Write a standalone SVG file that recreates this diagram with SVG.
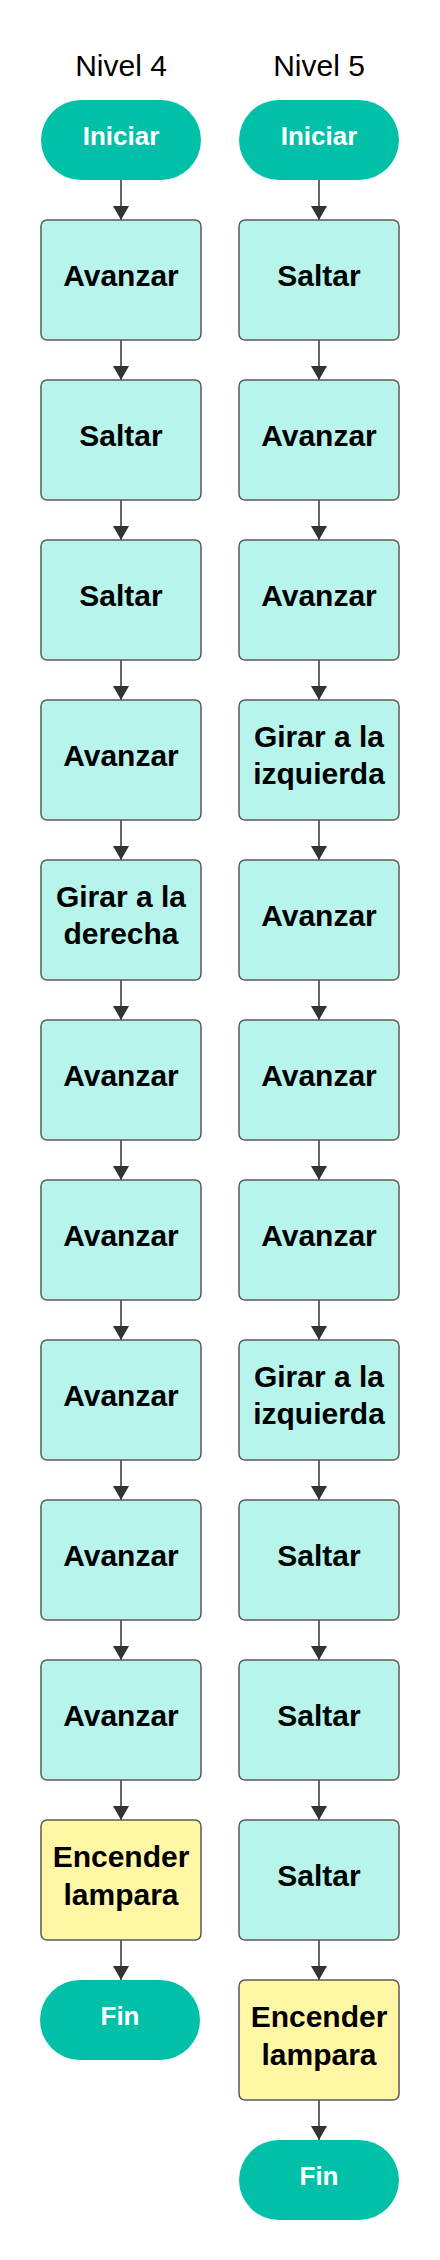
<svg xmlns="http://www.w3.org/2000/svg" width="440" height="2260" viewBox="0 0 440 2260">
<defs>
<style>
.title{font-family:"Liberation Sans",Arial,sans-serif;font-size:30px;fill:#000;text-anchor:middle}
.pill{fill:#00C1A8}
.pt{font-family:"Liberation Sans",Arial,sans-serif;font-size:26px;font-weight:bold;fill:#fff;text-anchor:middle}
.box{fill:#B7F4EB;stroke:#5a5a5a;stroke-width:1.5}
.lamp{fill:#FFF6A6;stroke:#5a5a5a;stroke-width:1.5}
.bt{font-family:"Liberation Sans",Arial,sans-serif;font-size:30px;font-weight:bold;fill:#000;text-anchor:middle}
.c{stroke:#333;stroke-width:1.5;fill:none;marker-end:url(#ah)}
</style>
<marker id="ah" markerUnits="userSpaceOnUse" markerWidth="14" markerHeight="16" viewBox="0 0 14 16" refX="14" refY="8" orient="auto"><path d="M0,0L14,8L0,16z" fill="#333"/></marker>
</defs>
<rect width="440" height="2260" fill="#fff"/>
<text class="title" x="121" y="76">Nivel 4</text>
<text class="title" x="319" y="76">Nivel 5</text>
<g id="connectors">
<path class="c" d="M121,180V220"/>
<path class="c" d="M121,340V380"/>
<path class="c" d="M121,500V540"/>
<path class="c" d="M121,660V700"/>
<path class="c" d="M121,820V860"/>
<path class="c" d="M121,980V1020"/>
<path class="c" d="M121,1140V1180"/>
<path class="c" d="M121,1300V1340"/>
<path class="c" d="M121,1460V1500"/>
<path class="c" d="M121,1620V1660"/>
<path class="c" d="M121,1780V1820"/>
<path class="c" d="M121,1940V1980"/>
<path class="c" d="M319,180V220"/>
<path class="c" d="M319,340V380"/>
<path class="c" d="M319,500V540"/>
<path class="c" d="M319,660V700"/>
<path class="c" d="M319,820V860"/>
<path class="c" d="M319,980V1020"/>
<path class="c" d="M319,1140V1180"/>
<path class="c" d="M319,1300V1340"/>
<path class="c" d="M319,1460V1500"/>
<path class="c" d="M319,1620V1660"/>
<path class="c" d="M319,1780V1820"/>
<path class="c" d="M319,1940V1980"/>
<path class="c" d="M319,2100V2140"/>
</g>
<g id="l-start"><rect class="pill" x="41" y="100" width="160" height="80" rx="40"/><text class="pt" x="121" y="145">Iniciar</text></g>
<g id="l1"><rect class="box" x="41" y="220" width="160" height="120" rx="6"/><text class="bt" x="121" y="286">Avanzar</text></g>
<g id="l2"><rect class="box" x="41" y="380" width="160" height="120" rx="6"/><text class="bt" x="121" y="446">Saltar</text></g>
<g id="l3"><rect class="box" x="41" y="540" width="160" height="120" rx="6"/><text class="bt" x="121" y="606">Saltar</text></g>
<g id="l4"><rect class="box" x="41" y="700" width="160" height="120" rx="6"/><text class="bt" x="121" y="766">Avanzar</text></g>
<g id="l5"><rect class="box" x="41" y="860" width="160" height="120" rx="6"/><text class="bt" x="121" y="907">Girar a la</text><text class="bt" x="121" y="944">derecha</text></g>
<g id="l6"><rect class="box" x="41" y="1020" width="160" height="120" rx="6"/><text class="bt" x="121" y="1086">Avanzar</text></g>
<g id="l7"><rect class="box" x="41" y="1180" width="160" height="120" rx="6"/><text class="bt" x="121" y="1246">Avanzar</text></g>
<g id="l8"><rect class="box" x="41" y="1340" width="160" height="120" rx="6"/><text class="bt" x="121" y="1406">Avanzar</text></g>
<g id="l9"><rect class="box" x="41" y="1500" width="160" height="120" rx="6"/><text class="bt" x="121" y="1566">Avanzar</text></g>
<g id="l10"><rect class="box" x="41" y="1660" width="160" height="120" rx="6"/><text class="bt" x="121" y="1726">Avanzar</text></g>
<g id="l11"><rect class="lamp" x="41" y="1820" width="160" height="120" rx="6"/><text class="bt" x="121" y="1867">Encender</text><text class="bt" x="121" y="1905">lampara</text></g>
<g id="l-end"><rect class="pill" x="40" y="1980" width="160" height="80" rx="40"/><text class="pt" x="120" y="2025">Fin</text></g>
<g id="r-start"><rect class="pill" x="239" y="100" width="160" height="80" rx="40"/><text class="pt" x="319" y="145">Iniciar</text></g>
<g id="r1"><rect class="box" x="239" y="220" width="160" height="120" rx="6"/><text class="bt" x="319" y="286">Saltar</text></g>
<g id="r2"><rect class="box" x="239" y="380" width="160" height="120" rx="6"/><text class="bt" x="319" y="446">Avanzar</text></g>
<g id="r3"><rect class="box" x="239" y="540" width="160" height="120" rx="6"/><text class="bt" x="319" y="606">Avanzar</text></g>
<g id="r4"><rect class="box" x="239" y="700" width="160" height="120" rx="6"/><text class="bt" x="319" y="747">Girar a la</text><text class="bt" x="319" y="784">izquierda</text></g>
<g id="r5"><rect class="box" x="239" y="860" width="160" height="120" rx="6"/><text class="bt" x="319" y="926">Avanzar</text></g>
<g id="r6"><rect class="box" x="239" y="1020" width="160" height="120" rx="6"/><text class="bt" x="319" y="1086">Avanzar</text></g>
<g id="r7"><rect class="box" x="239" y="1180" width="160" height="120" rx="6"/><text class="bt" x="319" y="1246">Avanzar</text></g>
<g id="r8"><rect class="box" x="239" y="1340" width="160" height="120" rx="6"/><text class="bt" x="319" y="1387">Girar a la</text><text class="bt" x="319" y="1424">izquierda</text></g>
<g id="r9"><rect class="box" x="239" y="1500" width="160" height="120" rx="6"/><text class="bt" x="319" y="1566">Saltar</text></g>
<g id="r10"><rect class="box" x="239" y="1660" width="160" height="120" rx="6"/><text class="bt" x="319" y="1726">Saltar</text></g>
<g id="r11"><rect class="box" x="239" y="1820" width="160" height="120" rx="6"/><text class="bt" x="319" y="1886">Saltar</text></g>
<g id="r12"><rect class="lamp" x="239" y="1980" width="160" height="120" rx="6"/><text class="bt" x="319" y="2027">Encender</text><text class="bt" x="319" y="2065">lampara</text></g>
<g id="r-end"><rect class="pill" x="239" y="2140" width="160" height="80" rx="40"/><text class="pt" x="319" y="2185">Fin</text></g>
</svg>
